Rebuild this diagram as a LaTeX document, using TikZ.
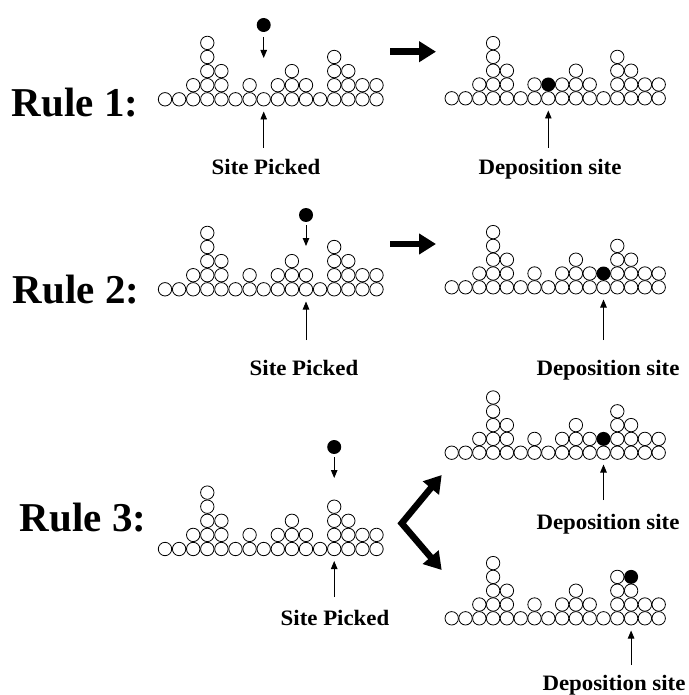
\documentclass[tikz,border=0pt]{standalone}
\usepackage{fontspec}
\setmainfont{Liberation Serif}
\newfontfamily\lblfont[FakeStretch=1.04]{Liberation Serif}
\usetikzlibrary{arrows.meta}
\newcommand\gpile[3]{%
  \foreach \hh [count=\cc from 0] in {1,1,2,5,3,1,2,1,2,3,2,1,4,3,2,2} {%
    \foreach \rr in {1,...,\hh} {%
      \draw[grain] ({#1+\cc*#3},{#2-(\rr-1)*#3}) circle[radius=6.7];
    }%
  }%
}
\tikzset{
  grain/.style={line width=0.8pt, draw=black, fill=white},
  ball/.style={fill=black},
  thinarrow/.style={line width=0.9pt, -{Triangle[length=8pt,width=6.5pt]}},
  bigarrow/.style={line width=6.5pt},
  rulelbl/.style={font=\fontsize{41}{45}\selectfont\bfseries, inner sep=0pt},
  sitelbl/.style={font=\lblfont\fontsize{22}{26}\selectfont\bfseries, inner sep=0pt, anchor=base}
}
\begin{document}
\begin{tikzpicture}[x=1pt,y=-1pt]
\useasboundingbox (0,0) rectangle (688,695);
% ---------- Rule 1
\node[rulelbl] (r1) at (75,103) {Rule 1:};
\gpile{165}{99.3}{14.1}
\fill[ball] (263.7,25) circle[radius=7];
\coordinate (f1a) at (263.7,37); \coordinate (f1b) at (263.7,58);
\draw[thinarrow] (f1a) -- (f1b);
\node[sitelbl] (s1) at (266,175) {Site Picked};
\coordinate (s1a) at (263.7,148); \coordinate (s1b) at (263.7,111.5);
\draw[thinarrow] (s1a) -- (s1b);
\coordinate (a1a) at (390,51.7); \coordinate (a1b) at (436,51.7);
\draw[bigarrow, -{Triangle[length=17pt,width=20pt]}] (a1a) -- (a1b);
\gpile{451.7}{98.3}{13.8}
\fill[ball] (548.3,84.5) circle[radius=7];
\node[sitelbl] (d1) at (550,175) {Deposition site};
\coordinate (d1a) at (548.3,148); \coordinate (d1b) at (548.3,110.5);
\draw[thinarrow] (d1a) -- (d1b);
% ---------- Rule 2
\node[rulelbl] (r2) at (76,290) {Rule 2:};
\gpile{165}{289.3}{14.1}
\fill[ball] (306,215) circle[radius=7];
\coordinate (f2a) at (306,225); \coordinate (f2b) at (306,246);
\draw[thinarrow] (f2a) -- (f2b);
\node[sitelbl] (s2) at (304,375) {Site Picked};
\coordinate (s2a) at (306,340); \coordinate (s2b) at (306,301.5);
\draw[thinarrow] (s2a) -- (s2b);
\coordinate (a2a) at (390,244); \coordinate (a2b) at (436,244);
\draw[bigarrow, -{Triangle[length=17pt,width=20pt]}] (a2a) -- (a2b);
\gpile{451.7}{287.3}{13.8}
\fill[ball] (603.5,273.5) circle[radius=7];
\node[sitelbl] (d2) at (608,375) {Deposition site};
\coordinate (d2a) at (603.5,340); \coordinate (d2b) at (603.5,299.5);
\draw[thinarrow] (d2a) -- (d2b);
% ---------- Rule 3
\node[rulelbl] (r3) at (83,518) {Rule 3:};
\gpile{165}{549}{14.1}
\fill[ball] (334.2,447) circle[radius=7];
\coordinate (f3a) at (334.2,457); \coordinate (f3b) at (334.2,478);
\draw[thinarrow] (f3a) -- (f3b);
\node[sitelbl] (s3) at (335,625) {Site Picked};
\coordinate (s3a) at (334.2,597); \coordinate (s3b) at (334.2,561);
\draw[thinarrow] (s3a) -- (s3b);
\coordinate (cu) at (441.7,475); \coordinate (cv) at (401.7,523.3); \coordinate (cd) at (441.7,570);
\draw[bigarrow, line join=miter, {Triangle[length=17pt,width=20pt]}-{Triangle[length=17pt,width=20pt]}] (cu) -- (cv) -- (cd);
\gpile{451.7}{452.7}{13.8}
\fill[ball] (603.5,438.9) circle[radius=7];
\node[sitelbl] (d3) at (608,529) {Deposition site};
\coordinate (d3a) at (603.5,500); \coordinate (d3b) at (603.5,464.5);
\draw[thinarrow] (d3a) -- (d3b);
\gpile{451.7}{618.3}{13.8}
\fill[ball] (631.1,576.9) circle[radius=7];
\node[sitelbl] (d4) at (614,690) {Deposition site};
\coordinate (d4a) at (631.1,665); \coordinate (d4b) at (631.1,630.5);
\draw[thinarrow] (d4a) -- (d4b);
\end{tikzpicture}
\end{document}
